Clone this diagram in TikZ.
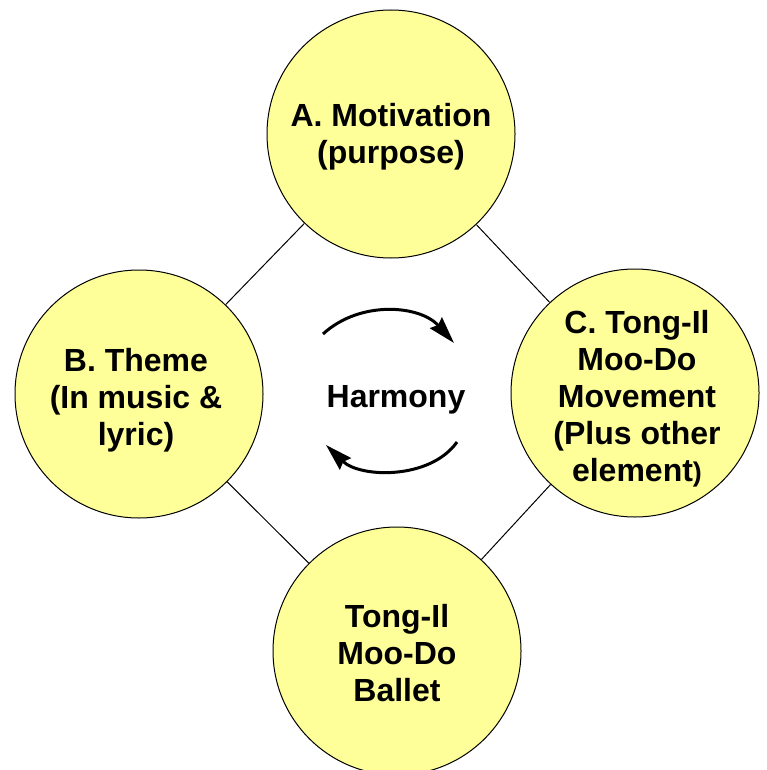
\documentclass[tikz,border=0pt]{standalone}
\usepackage{fontspec}
\setmainfont{Liberation Sans}
\usetikzlibrary{arrows.meta}
\definecolor{circfill}{RGB}{255,255,153}
\begin{document}
\begin{tikzpicture}[x=1pt,y=-1pt,
  bubble/.style={circle,draw=black,line width=1pt,fill=circfill,minimum size=248pt,inner sep=0pt},
  words/.style={align=center,inner sep=0pt,font=\fontsize{32}{37}\selectfont\bfseries},
  link/.style={draw=black,line width=1pt},
  turn/.style={line width=3pt,-{Stealth[length=27pt,width=16pt,inset=3pt]}}]
\useasboundingbox (0,0) rectangle (766,770);
\node[bubble] (A) at (391,134) {};
\node[bubble] (B) at (139,394) {};
\node[bubble] (C) at (635,393) {};
\node[bubble] (D) at (397,651) {};
\node[words] (At) at (391,137) {A. Motivation\\(purpose)};
\node[words] (Bt) at (136,400) {B. Theme\\(In music \&\\lyric)};
\node[words] (Ct) at (637,399) {C. Tong-Il\\Moo-Do\\Movement\\(Plus other\\element{\fontsize{27}{37}\selectfont)}};
\node[words] (Dt) at (397,653) {Tong-Il\\Moo-Do\\Ballet};
\node[words] (H) at (396,400) {Harmony};
\draw[link] (A) -- (B);
\draw[link] (A) -- (C);
\draw[link] (B) -- (D);
\draw[link] (C) -- (D);
\coordinate (t1) at (323,334);
\coordinate (t2) at (454,343);
\coordinate (b1) at (457,442);
\coordinate (b2) at (326,445);
\draw[turn] (t1) .. controls (360,300) and (420,305) .. (t2);
\draw[turn] (b1) .. controls (430,480) and (360,478) .. (b2);
\end{tikzpicture}
\end{document}
